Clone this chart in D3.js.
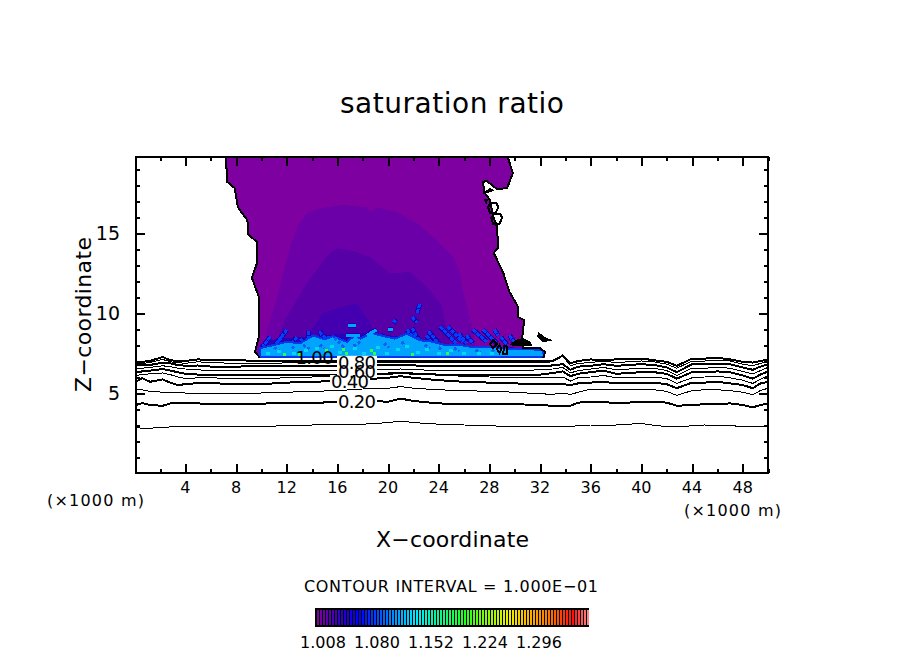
<!DOCTYPE html>
<html>
<head>
<meta charset="utf-8">
<style>
  html, body { margin: 0; background: #fff; }
  svg { display: block; }
  text { font-family: "DejaVu Sans", sans-serif; fill: #000; }
  .crisp { shape-rendering: crispEdges; }
</style>
<script src="https://cdn.jsdelivr.net/npm/d3@7"></script>
</head>
<body>
<svg id="chart" width="904" height="654"></svg>
<script>
// x positions shared by all the contour lines (x1000 m)
const xs = [0.1,0.6,1.2,2.2,2.8,3.4,4,5,6,8,
  10,12,14,16,18,20,21,22,24,26,
  28,30,32,33,33.8,34.4,35,36,37,38,
  40,41,42,42.8,44,45,46,47,48,48.8,
  49.4,50]

// contour heights read at xs
const c010 = [2.9,2.75,2.8,2.85,2.88,2.88,2.88,2.9,2.9,2.9, 2.92,2.95,3.0,3.05,3.05,3.15,3.25,3.15,3.05,3.0, 2.95,2.9,2.9,2.9,2.88,2.92,2.95,3.0,3.0,3.0, 3.1,2.98,2.9,2.88,2.95,3.0,2.97,2.95,2.92,2.9, 2.9,2.9]
const c020 = [4.25,4.37,4.25,4.2,4.35,4.4,4.35,4.35,4.3,4.3, 4.33,4.4,4.37,4.45,4.55,4.45,4.65,4.5,4.35,4.3, 4.3,4.3,4.25,4.2,4.2,4.2,4.4,4.45,4.45,4.35, 4.45,4.45,4.4,4.2,4.25,4.3,4.3,4.35,4.25,4.1, 4.25,4.35]
const c030 = [5.2,5.2,5.1,5.05,5.05,5.05,5.0,5.0,5.0,5.0, 5.0,5.05,5.1,5.15,5.25,5.3,5.4,5.3,5.2,5.15, 5.1,5.05,4.95,4.92,5.0,4.9,5.05,5.25,5.22,5.2, 5.2,5.2,5.1,4.85,5.15,5.2,5.2,5.15,5.05,4.9, 5.15,5.3]
const c040 = [5.7,5.93,5.7,5.85,5.65,5.5,5.55,5.62,5.62,5.55, 5.55,5.65,5.7,5.75,5.85,5.95,6.05,5.95,5.8,5.7, 5.65,5.6,5.55,5.55,5.55,5.5,5.6,5.65,5.7,5.6, 5.65,5.65,5.55,5.3,5.65,5.65,5.7,5.6,5.5,5.3, 5.6,5.7]
const c050 = [6.1,6.15,6.2,6.25,6.15,6.0,5.9,5.95,5.95,5.9, 5.9,5.95,6.0,6.05,6.15,6.25,6.3,6.25,6.1,6.05, 6.0,5.95,5.95,5.95,6.0,5.75,5.95,6.0,6.1,5.95, 6.0,6.0,5.9,5.6,5.95,6.0,6.05,5.95,5.8,5.6, 5.85,6.1]
const c060 = [6.3,6.35,6.4,6.5,6.4,6.3,6.2,6.15,6.1,6.1, 6.1,6.1,6.1,6.1,6.15,6.2,6.25,6.2,6.15,6.1, 6.1,6.1,6.15,6.25,6.35,6.05,6.2,6.3,6.4,6.2, 6.3,6.3,6.2,5.9,6.3,6.3,6.35,6.3,6.1,5.9, 6.15,6.35]
const c070 = [6.5,6.55,6.6,6.7,6.65,6.55,6.5,6.45,6.4,6.4, 6.4,6.4,6.4,6.4,6.42,6.45,6.5,6.45,6.42,6.4, 6.4,6.4,6.45,6.5,6.6,6.25,6.4,6.5,6.6,6.45, 6.55,6.55,6.4,6.1,6.55,6.55,6.6,6.55,6.35,6.2, 6.4,6.6]
const c080 = [6.72,6.75,6.75,6.9,6.85,6.75,6.7,6.72,6.65,6.65, 6.68,6.68,6.7,6.7,6.72,6.72,6.75,6.72,6.7,6.7, 6.7,6.7,6.7,6.72,6.8,6.45,6.65,6.7,6.8,6.7, 6.8,6.75,6.6,6.3,6.8,6.8,6.8,6.8,6.6,6.45, 6.65,6.8]
const c090 = [6.85,6.85,6.9,7.1,6.95,6.9,6.85,6.95,6.9,6.85, 6.85,6.88,6.88,6.88,6.88,6.88,6.88,6.88,6.88,6.88, 6.88,6.88,6.88,6.95,7.3,6.7,6.85,6.9,7.0,6.9, 7.0,6.95,6.8,6.55,7.0,7.0,7.05,7.0,6.8,6.7, 6.85,7.0]
const c100 = [6.95,6.95,7.0,7.25,7.05,7.0,7.0,7.1,7.05,7.05, 7.0,7.0,7.0,7.0,7.0,7.0,7.0,7.0,7.0,7.0, 7.0,7.0,7.0,7.0,7.35,6.85,7.0,7.1,7.05,7.1, 7.15,7.05,6.95,6.7,7.15,7.15,7.2,7.1,6.95,6.9, 7.0,7.1]
const contourRows = [c010, c020, c030, c040, c050, c060, c070, c080, c090, c100]

const contourLabels = [
  ["0.20", 17.55, 4.5], ["0.40", 17.0, 5.75], ["0.60", 17.55, 6.38],
  ["0.80", 17.55, 6.95], ["1.00", 14.2, 7.25]
]

// cloud outline, the 1.00 contour
const plumeLeft = [[7.2,19.75],[7.3,18.2],[7.9,17.8],[8.15,16.6],[8.9,15.8],[8.95,14.9],[9.65,14.45],[9.65,13.1],[9.25,12.2],[9.8,11.0],[9.8,8.5],[9.5,7.55],[9.9,7.2]]
const plumeRight = [[32.25,7.2],[32.4,7.55],[32.0,7.8],[30.65,7.8],[30.6,8.5],[30.75,9.55],[30.25,9.75],[30.25,10.4],[29.6,11.3],[29.1,12.5],[28.35,13.75],[28.7,14.1],[28.6,15.4],[28.3,16.05],[28.05,17.05],[27.6,17.55],[27.5,18.2],[27.8,18.25],[28.6,17.75],[29.4,17.8],[29.85,18.75],[29.45,19.75]]

// shaded levels inside the cloud
const band2 = [[10.2,7.4],[10.45,8.95],[11.25,11.0],[12.25,14.1],[12.9,15.5],[13.6,16.25],[14.6,16.55],[16.45,16.75],[18.35,16.6],[18.6,16.3],[19.15,16.6],[20.7,16.3],[22.3,15.6],[23.85,14.55],[25.15,13.5],[25.7,12.5],[25.85,11.6],[26.65,9.1],[26.9,8.0],[27,7.4]]
const band3 = [[11.1,8.0],[11.85,9.55],[13.6,11.9],[15.4,13.75],[16.05,14.05],[17.55,13.8],[18.6,13.5],[20.15,12.5],[21.75,12.55],[23.1,11.6],[24.25,10.5],[24.5,9.4],[24.9,8.0]]
const band4 = [[13.05,8.0],[14.1,9.1],[14.85,10.0],[16.45,10.4],[17.55,10.6],[18.6,9.4],[19,8.0]]
const band5 = [[9.9,7.3],[9.9,8.0],[11,8.35],[13,8.5],[15,8.6],[17,8.75],[19,8.75],[21,8.5],[23,8.2],[25,8.0],[27,7.95],[29,7.9],[30.6,7.8],[32.3,7.4]]
const coreBand = [[9.9,7.8],[10.7,7.95],[12.0,8.2],[13.05,8.1],[14.1,8.6],[15.0,8.35],[15.65,8.55],[16.75,8.2],[17.4,8.6],[17.8,8.4],[18.75,8.75],[19.4,8.6],[20.55,8.4],[21.5,8.7],[22.5,8.3],[23.55,8.2],[24.5,8.0],[25.7,8.0],[26.85,7.85],[27.8,7.9],[29.1,7.8],[30,7.75],[31.2,7.75],[32.25,7.65],[32.3,7.25],[9.9,7.25]]

// narrow plumes of higher values above the base
const streaks = [
  [22.5,10.55,22.3,10.0],[21.9,9.75,22.3,9.4],[20.4,9.55,20.7,9.4],[21.9,9.05,22.5,8.2],
  [23.2,8.85,24.2,7.9],[24.1,9.15,25.4,8.1],[24.7,9.15,25.9,8.2],[26.7,8.95,27.8,8.2],
  [27.5,8.95,28.6,8.1],[28.4,8.95,28.7,8.6],[12,8.95,11.2,8.1],[10.7,8.5,10.1,7.9],
  [11.6,8.5,10.9,7.8],[12.8,8.5,12.3,8.0],[13.7,8.85,13.7,8.45],[14.6,8.85,14.8,8.6],
  [21.5,8.95,22.3,8.2],[19.4,8.6,20.4,8.3],[15.2,8.5,16.05,8.3],
  [23.0,8.6,23.5,8.1],[25.6,8.7,26.2,8.1],[26.2,8.6,26.7,8.1],[28.9,8.5,29.4,8.0],
  [29.6,8.6,30.0,8.1],[13.1,8.4,13.4,8.1],[14.9,8.6,15.2,8.3],[18.2,8.2,18.7,8.0]
]
const brightStreaks = [[16.8,9.2,17.5,9.2],[18.3,8.6,19.1,8.95],[20,8.95,20.4,8.95],[16.7,8.6,17.8,8.6]]
const darkSpecks = [[15.8,8.45,16.6,7.8],[17.8,8.2,17.2,7.9],[13.3,8.0,13.8,7.75],[19.7,8.1,20.1,7.85],[22.9,8.0,23.3,7.75],[25.2,7.8,25.6,7.6],[26.9,7.7,27.3,7.5],[11,7.85,11.4,7.65],[12.4,7.9,12.7,7.7],[14.6,8.0,15,7.8],[21.1,8.2,21.4,7.9],[24,7.85,24.3,7.65],[28.2,7.7,28.5,7.5]]

const cyanSpecks = [[10.5,7.5],[11.4,7.6],[12.6,7.5],[13.5,7.65],[14.4,7.8],[15.6,7.9],[16.2,7.55],[17.4,7.8],[18.1,7.5],[19.2,7.85],[19.9,7.5],[20.8,7.7],[21.5,7.9],[22.4,7.55],[23.1,7.75],[24,7.5],[25,7.65],[26,7.5],[27.2,7.45],[28.2,7.5]]
const greenSpecks = [[16.5,7.7],[16.7,7.5],[18.7,7.65],[18.95,7.5],[15.15,7.65],[24.7,7.5],[11.85,7.4],[13.0,7.4],[21.9,7.4]]

// small detached contours near the cloud edge
const smallLoops = [
  [[27.9,16.6],[28.1,16.9],[28.55,16.9],[28.7,16.6],[28.5,16.25],[28.05,16.25]],
  [[28.15,15.95],[28.35,16.2],[28.85,16.2],[29,15.95],[28.8,15.55],[28.3,15.55]],
  [[28.05,8.05],[28.3,8.3],[28.6,8.05],[28.3,7.8]],
  [[28.6,7.75],[28.8,8.0],[28.95,7.75],[28.8,7.5]],
  [[29.15,7.95],[29.35,7.95],[29.4,7.45],[29.1,7.45]]
]
const blackBlobs = [
  [[29.7,8.05],[30.15,8.3],[30.7,8.4],[31.2,8.2],[31.35,8.0],[30.7,7.95],[29.9,7.95]],
  [[31.9,8.75],[32.4,8.45],[32.9,8.3],[32.25,8.2],[31.8,8.55]],
  [[27.5,17.45],[28.3,17.65],[28.05,17.8]],
  [[27.6,17.1],[27.85,17.1],[27.75,16.85]]
]

const xMajor = [4,8,12,16,20,24,28,32,36,40,44,48]
const xMinor = [2,6,10,14,18,22,26,30,34,38,42,46,50]
const zMajor = [5,10,15]
const zMinor = [1,2,3,4,6,7,8,9,11,12,13,14,16,17,18,19]

const barTicks = [1.008, 1.080, 1.152, 1.224, 1.296]
const barColorStops = [1.0, 1.03, 1.055, 1.13, 1.195, 1.255, 1.31, 1.34, 1.362]
const barColors = ["#8000a0", "#3000c0", "#0000ff", "#00e8ff", "#20ff20", "#f0f000", "#ff7000", "#ff1010", "#ff9090"]

const svg = d3.select("#chart")
const margin = { left: 136, right: 768, top: 157, bottom: 473 }

const x = d3.scaleLinear().domain([0.1, 50]).range([margin.left, margin.right])
const z = d3.scaleLinear().domain([0, 19.75]).range([margin.bottom, margin.top])

const line = d3.line().x(d => x(d[0])).y(d => z(d[1]))
const closed = d3.line().x(d => x(d[0])).y(d => z(d[1])).curve(d3.curveLinearClosed)

svg.append("clipPath").attr("id", "plot")
  .append("rect")
  .attr("x", margin.left).attr("y", margin.top)
  .attr("width", margin.right - margin.left).attr("height", margin.bottom - margin.top)

const plot = svg.append("g").attr("clip-path", "url(#plot)")

// filled levels, outermost first
const fills = [
  [plumeLeft.concat(plumeRight), "#7f00a0"],
  [band2, "#6b00a8"],
  [band3, "#5800a8"],
  [band4, "#4400b0"],
  [band5, "#2c00b8"]
]
fills.forEach(([pts, color]) => {
  plot.append("path").attr("class", "crisp").attr("d", closed(pts)).attr("fill", color)
})

function segments(data, color, width, dash) {
  plot.append("g").selectAll("line").data(data).join("line")
    .attr("class", "crisp")
    .attr("x1", d => x(d[0])).attr("y1", d => z(d[1]))
    .attr("x2", d => x(d[2])).attr("y2", d => z(d[3]))
    .attr("stroke", color).attr("stroke-width", width)
    .attr("stroke-dasharray", dash)
}

// streaks get a navy edge and a blue centre
segments(streaks.concat(brightStreaks), "#2000a8", 5, null)
segments(streaks, "#0040ff", 3, "4 1")

plot.append("path").attr("class", "crisp").attr("d", closed(coreBand))
  .attr("fill", "#00a4ff").attr("stroke", "#0038f0").attr("stroke-width", 2)

segments(brightStreaks, "#00a4ff", 3, null)
segments(darkSpecks, "#1060f0", 3, "3 2")

plot.selectAll(".cyan").data(cyanSpecks).join("rect")
  .attr("class", "crisp")
  .attr("x", d => x(d[0]) - 2).attr("y", d => z(d[1]) - 1.5)
  .attr("width", 4).attr("height", 3).attr("fill", "#00d8f0")

plot.selectAll(".green").data(greenSpecks).join("rect")
  .attr("class", "crisp")
  .attr("x", d => x(d[0]) - 1.5).attr("y", d => z(d[1]) - 1.5)
  .attr("width", 3).attr("height", 3).attr("fill", "#30ff40")

// contour lines: even levels thick, odd levels thin
contourRows.forEach((row, i) => {
  plot.append("path").attr("class", "crisp")
    .attr("d", line(row.map((v, j) => [xs[j], v])))
    .attr("fill", "none").attr("stroke", "#000")
    .attr("stroke-width", i % 2 ? 2 : 1)
})

;[plumeLeft, plumeRight].forEach(pts => {
  plot.append("path").attr("class", "crisp").attr("d", line(pts))
    .attr("fill", "none").attr("stroke", "#000").attr("stroke-width", 2)
})
smallLoops.forEach(pts => {
  plot.append("path").attr("class", "crisp").attr("d", closed(pts))
    .attr("fill", "none").attr("stroke", "#000").attr("stroke-width", 2)
})
blackBlobs.forEach(pts => {
  plot.append("path").attr("class", "crisp").attr("d", closed(pts))
    .attr("fill", "#000").attr("stroke", "#000")
})

// labels cut a gap in the lines, except the 1.00 one sitting on the cloud
plot.selectAll(".gap").data(contourLabels.filter(d => d[0] !== "1.00")).join("rect")
  .attr("x", d => x(d[1]) - 20).attr("y", d => z(d[2]) - 6)
  .attr("width", 40).attr("height", 12).attr("fill", "#fff")

plot.selectAll(".lab").data(contourLabels).join("text")
  .attr("x", d => x(d[1]) - 19).attr("y", d => z(d[2]) + 7)
  .attr("textLength", 38).attr("font-size", 18)
  .text(d => d[0])

// frame and ticks on all four sides
function tickAxis(axis, scale, values, size) {
  return axis(scale).tickValues(values).tickSizeInner(-size).tickSizeOuter(0).tickFormat("")
}
function addAxis(gen, tx, ty) {
  const g = svg.append("g").attr("class", "crisp").attr("transform", `translate(${tx},${ty})`).call(gen)
  g.select(".domain").remove()
  g.selectAll("line").attr("stroke-width", 2)
  return g
}
addAxis(tickAxis(d3.axisBottom, x, xMajor, 9), 0, margin.bottom)
addAxis(tickAxis(d3.axisBottom, x, xMinor, 4), 0, margin.bottom)
addAxis(tickAxis(d3.axisTop, x, xMajor, 9), 0, margin.top)
addAxis(tickAxis(d3.axisTop, x, xMinor, 4), 0, margin.top)
addAxis(tickAxis(d3.axisLeft, z, zMajor, 9), margin.left, 0)
addAxis(tickAxis(d3.axisLeft, z, zMinor, 4), margin.left, 0)
addAxis(tickAxis(d3.axisRight, z, zMajor, 9), margin.right, 0)
addAxis(tickAxis(d3.axisRight, z, zMinor, 4), margin.right, 0)

svg.append("rect").attr("class", "crisp")
  .attr("x", margin.left).attr("y", margin.top)
  .attr("width", margin.right - margin.left).attr("height", margin.bottom - margin.top)
  .attr("fill", "none").attr("stroke", "#000").attr("stroke-width", 2)

svg.selectAll(".xlab").data(xMajor).join("text")
  .attr("x", d => x(d)).attr("y", 493)
  .attr("text-anchor", "middle").attr("font-size", 16)
  .text(d => d)

svg.selectAll(".zlab").data(zMajor).join("text")
  .attr("x", 120).attr("y", d => z(d) + 7)
  .attr("text-anchor", "end").attr("font-size", 19)
  .text(d => d)

function label(txt, left, base, width, size) {
  return svg.append("text").attr("x", left).attr("y", base)
    .attr("textLength", width).attr("font-size", size).text(txt)
}
label("saturation ratio", 340, 113, 224, 28)
label("X\u2212coordinate", 376, 547, 153, 22)
label("(\u00d71000 m)", 47, 506, 97, 16)
label("(\u00d71000 m)", 684, 516, 97, 16)
label("CONTOUR INTERVAL = 1.000E\u221201", 304, 592, 294, 16)

svg.append("text")
  .attr("transform", "translate(91,392) rotate(-90)")
  .attr("textLength", 155).attr("font-size", 22)
  .text("Z\u2212coordinate")

// colour bar
const barX = d3.scaleLinear().domain([1.008, 1.296]).range([323, 539])
const barColor = d3.scaleLinear().domain(barColorStops).range(barColors)
const barLevels = d3.range(1.0, 1.362, 0.004)

svg.append("rect").attr("class", "crisp")
  .attr("x", 315).attr("y", 608).attr("width", 274).attr("height", 19).attr("fill", "#000")

svg.selectAll(".stripe").data(barLevels).join("rect")
  .attr("class", "crisp")
  .attr("x", d => barX(d)).attr("y", 610)
  .attr("width", 1.5).attr("height", 15)
  .attr("fill", d => barColor(d))

svg.selectAll(".barlab").data(barTicks).join("text")
  .attr("x", d => barX(d)).attr("y", 648)
  .attr("text-anchor", "middle").attr("font-size", 16)
  .text(d => d3.format(".3f")(d))
</script>
</body>
</html>
